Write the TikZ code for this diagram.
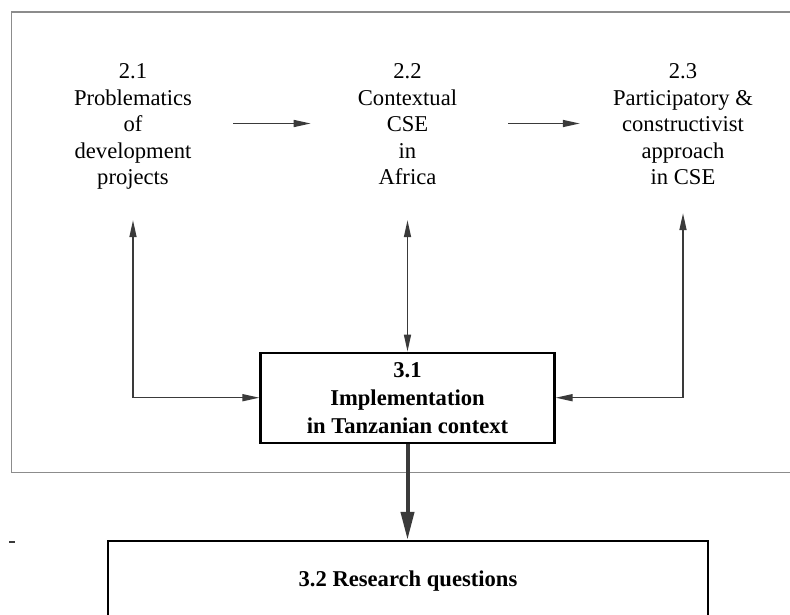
\documentclass[tikz,border=0pt]{standalone}
\usepackage{fontspec}
\setmainfont{Liberation Serif}
\usetikzlibrary{arrows.meta}
\definecolor{linkgray}{HTML}{3A3A3A}
\definecolor{framegray}{HTML}{8C8C8C}
\begin{document}
\begin{tikzpicture}[x=1pt,y=-1pt,
  topic/.style={align=center, inner sep=0pt, minimum height=187pt,
    font=\fontsize{22.6}{26.5}\selectfont},
  stage/.style={draw=black, line width=2.3pt, align=center, inner sep=0pt,
    font=\bfseries\fontsize{22.6}{28}\selectfont},
  thinhead/.style={-{Triangle[length=17pt,width=7pt]}},
  twoway/.style={{Triangle[length=17pt,width=7pt]}-{Triangle[length=17pt,width=7pt]}},
  link/.style={draw=linkgray, line width=1.5pt},
  mainflow/.style={draw=linkgray, line width=4pt,
    -{Triangle[length=28pt,width=13pt]}},
  frame/.style={draw=framegray, line width=1.3pt}
]
\clip (0,0) rectangle (790,614);
\fill[white] (0,0) rectangle (790,614);

% outer frame around the chapter 2 topics and 3.1
\draw[frame] (11.7,12) rectangle (800,472.3);

% topics of chapter 2
\node[topic] (n21) at (133,126.5) {2.1\\Problematics\\of\\development\\projects};
\node[topic] (n22) at (407.5,126.5) {2.2\\Contextual\\CSE\\in\\Africa\vphantom{p}};
\node[topic] (n23) at (683,126.5) {2.3\\Participatory \&\\constructivist\\approach\\in CSE\vphantom{p}};

% chapter 3 boxes
\node[stage, minimum width=294pt, minimum height=90pt] (n31) at (407.5,397.7)
  {3.1\\Implementation\\in Tanzanian context};
\node[stage, minimum width=599.4pt, minimum height=80pt] (n32) at (408,581)
  {3.2 Research questions};

% sequence between the topics
\draw[link, thinhead] ([xshift=41pt,yshift=3pt]n21.east) -- ([xshift=-47pt,yshift=3pt]n22.west);
\draw[link, thinhead] ([xshift=51pt,yshift=3pt]n22.east) -- ([xshift=-33pt,yshift=3pt]n23.west);

% two-way links between the topics and 3.1
\draw[link, twoway] (n21.south) |- (n31.west);
\draw[link, twoway] (n22.south) -- (n31.north);
\draw[link, twoway] ([yshift=7pt]n23.south) |- (n31.east);

% 3.1 leads to the research questions
\draw[mainflow] (n31.south) -- (n31.south |- n32.north);

% small stray mark on the left margin
\draw[linkgray, line width=1.2pt] (9,542) -- (15,542);
\end{tikzpicture}
\end{document}
